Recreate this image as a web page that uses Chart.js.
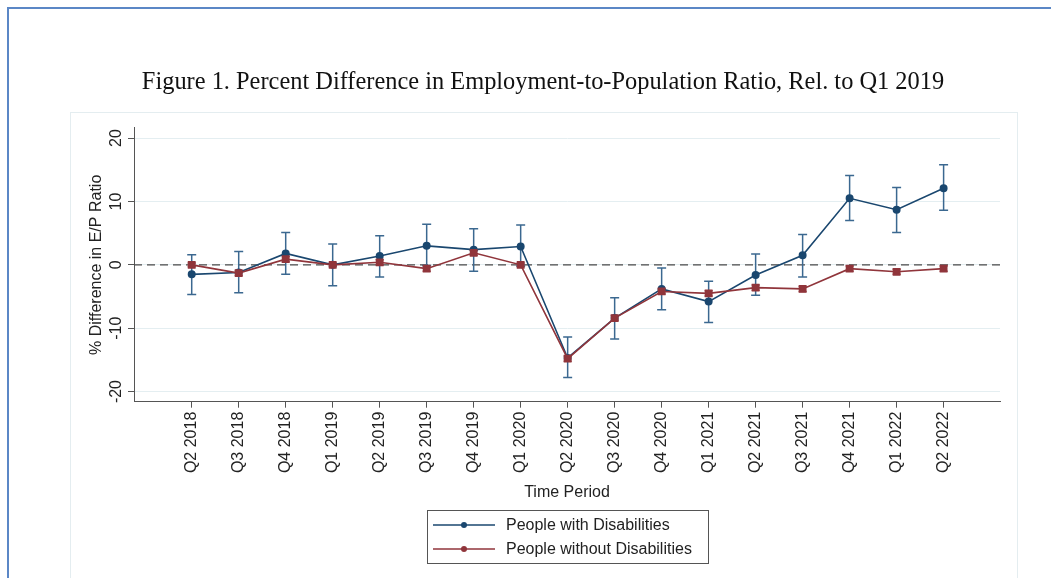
<!DOCTYPE html>
<html>
<head>
<meta charset="utf-8">
<script src="https://cdn.jsdelivr.net/npm/chart.js@4.4.1/dist/chart.umd.min.js"></script>
<style>
  html, body { margin: 0; padding: 0; background: #ffffff; overflow: hidden; }
  #outer { position: absolute; left: 7px; top: 7px; width: 1100px; height: 700px;
           border-left: 2px solid #5b87c6; border-top: 2px solid #5b87c6; }
  #inner { position: absolute; left: 70px; top: 112px; width: 946px; height: 600px;
           border: 1px solid #e4edf0; }
  #wrap { position: absolute; left: 0; top: 0; width: 1051px; height: 578px; }
</style>
</head>
<body>
<div id="outer"></div>
<div id="inner"></div>
<div id="wrap"><canvas id="c" width="1051" height="578"></canvas></div>
<script>
// ---- Data ----
const periods = ['Q2 2018','Q3 2018','Q4 2018','Q1 2019','Q2 2019','Q3 2019','Q4 2019','Q1 2020',
                 'Q2 2020','Q3 2020','Q4 2020','Q1 2021','Q2 2021','Q3 2021','Q4 2021','Q1 2022','Q2 2022'];
const withDis    = [-1.5, -1.2, 1.8, 0.0, 1.4, 3.0, 2.4, 2.9, -14.7, -8.4, -3.8, -5.8, -1.6, 1.5, 10.5, 8.7, 12.1];
const withDisLo  = [-4.7, -4.4, -1.5, -3.3, -1.9, -0.1, -1.0, -0.2, -17.8, -11.7, -7.1, -9.1, -4.8, -1.9, 7.0, 5.1, 8.6];
const withDisHi  = [1.6, 2.1, 5.1, 3.3, 4.6, 6.4, 5.7, 6.3, -11.4, -5.2, -0.5, -2.6, 1.7, 4.8, 14.1, 12.2, 15.8];
const withoutDis   = [0.0, -1.3, 0.9, 0.0, 0.4, -0.6, 1.9, 0.0, -14.8, -8.4, -4.2, -4.5, -3.6, -3.8, -0.6, -1.1, -0.6];
const withoutDisLo = [-0.3, -1.7, 0.5, -0.3, 0.0, -1.0, 1.5, -0.3, -15.2, -8.8, -4.6, -4.9, -4.0, -4.2, -1.0, -1.5, -1.0];
const withoutDisHi = [0.3, -0.9, 1.3, 0.3, 0.8, -0.2, 2.3, 0.3, -14.4, -8.0, -3.8, -4.1, -3.2, -3.4, -0.2, -0.7, -0.2];
const yTicks = [-20, -10, 0, 10, 20];
const seriesNames = ['People with Disabilities', 'People without Disabilities'];

const BLUE = '#1a476f';
const BLUE_ERR = '#3b6890';
const RED = '#90353b';
const SANS = "'Liberation Sans', Arial, sans-serif";

const toPts = arr => arr.map((v, i) => ({x: i, y: v}));

const errorBars = {
  id: 'errorBars',
  beforeDatasetsDraw(chart) {
    const {ctx, scales: {x, y}, chartArea} = chart;
    ctx.save();
    ctx.strokeStyle = '#4a4a4a';
    ctx.lineWidth = 1.3;
    ctx.setLineDash([8, 5]);
    ctx.beginPath();
    const y0 = y.getPixelForValue(0);
    ctx.moveTo(chartArea.left, y0);
    ctx.lineTo(chartArea.right, y0);
    ctx.stroke();
    ctx.restore();

    const sets = [
      {lo: withoutDisLo, hi: withoutDisHi, color: RED, cap: 4},
      {lo: withDisLo, hi: withDisHi, color: BLUE_ERR, cap: 4.5}
    ];
    sets.forEach(s => {
      ctx.save();
      ctx.strokeStyle = s.color;
      ctx.lineWidth = 1.5;
      s.lo.forEach((lo, i) => {
        const px = x.getPixelForValue(i);
        const pl = y.getPixelForValue(lo);
        const ph = y.getPixelForValue(s.hi[i]);
        ctx.beginPath();
        ctx.moveTo(px, pl); ctx.lineTo(px, ph);
        ctx.moveTo(px - s.cap, pl); ctx.lineTo(px + s.cap, pl);
        ctx.moveTo(px - s.cap, ph); ctx.lineTo(px + s.cap, ph);
        ctx.stroke();
      });
      ctx.restore();
    });
  }
};

const legendBox = {
  id: 'legendBox',
  afterDraw(chart) {
    const {ctx} = chart;
    ctx.save();
    ctx.strokeStyle = '#555';
    ctx.lineWidth = 1;
    ctx.strokeRect(427.5, 510.5, 281, 53);
    const rows = [
      {y: 525, color: BLUE, text: seriesNames[0]},
      {y: 549, color: RED, text: seriesNames[1]}
    ];
    rows.forEach(r => {
      ctx.strokeStyle = r.color;
      ctx.lineWidth = 1.5;
      ctx.beginPath();
      ctx.moveTo(433, r.y); ctx.lineTo(495, r.y);
      ctx.stroke();
      ctx.fillStyle = r.color;
      ctx.beginPath();
      ctx.arc(464, r.y, 3, 0, Math.PI * 2);
      ctx.fill();
      ctx.fillStyle = '#222';
      ctx.font = '16px ' + SANS;
      ctx.textBaseline = 'middle';
      ctx.textAlign = 'left';
      ctx.fillText(r.text, 506, r.y + 1);
    });
    ctx.restore();
  }
};

new Chart(document.getElementById('c'), {
  type: 'line',
  data: {
    datasets: [
      {
        label: seriesNames[1],
        data: toPts(withoutDis),
        borderColor: RED,
        backgroundColor: RED,
        borderWidth: 1.6,
        pointStyle: 'rect',
        pointRadius: 4.4,
        pointHoverRadius: 4.4,
        tension: 0
      },
      {
        label: seriesNames[0],
        data: toPts(withDis),
        borderColor: BLUE,
        backgroundColor: BLUE,
        borderWidth: 1.6,
        pointStyle: 'circle',
        pointRadius: 3.2,
        pointHoverRadius: 3.2,
        tension: 0
      }
    ]
  },
  options: {
    responsive: false,
    animation: false,
    events: [],
    layout: { padding: { left: 86, right: 51, top: 0, bottom: 76.3 } },
    plugins: {
      legend: { display: false },
      tooltip: { enabled: false },
      title: {
        display: true,
        text: 'Figure 1. Percent Difference in Employment-to-Population Ratio, Rel. to Q1 2019',
        font: { family: "'Liberation Serif', 'Times New Roman', serif", size: 24.4, weight: 'normal' },
        color: '#111',
        padding: { top: 68, bottom: 30.7 }
      }
    },
    scales: {
      x: {
        type: 'linear',
        min: -1.228,
        max: 17.2,
        afterBuildTicks: s => { s.ticks = periods.map((_, i) => ({ value: i })); },
        afterFit: s => { s.height = 100; },
        grid: { display: true, drawOnChartArea: false, drawTicks: true, tickLength: 6, tickColor: '#555', color: '#555' },
        border: { display: true, color: '#555', width: 1 },
        ticks: {
          autoSkip: false,
          minRotation: 90,
          maxRotation: 90,
          padding: 4,
          color: '#222',
          font: { family: SANS, size: 16 },
          callback: v => periods[v] ?? ''
        },
        title: {
          display: true,
          text: 'Time Period',
          color: '#222',
          font: { family: SANS, size: 16 },
          padding: { top: 0, bottom: 0 }
        }
      },
      y: {
        min: -21.6,
        max: 21.6,
        afterBuildTicks: s => { s.ticks = yTicks.map(v => ({ value: v })); },
        afterFit: s => { s.width = 48; },
        grid: { display: true, color: '#e4eef1', lineWidth: 1, drawTicks: true, tickLength: 6, tickColor: '#555' },
        border: { display: true, color: '#555', width: 1 },
        ticks: {
          minRotation: 90,
          maxRotation: 90,
          crossAlign: 'center',
          padding: 0,
          color: '#222',
          font: { family: SANS, size: 16 }
        },
        title: {
          display: true,
          text: '% Difference in E/P Ratio',
          color: '#222',
          font: { family: SANS, size: 16 },
          padding: { top: 1.4, bottom: 0 }
        }
      }
    }
  },
  plugins: [errorBars, legendBox]
});
</script>
</body>
</html>
